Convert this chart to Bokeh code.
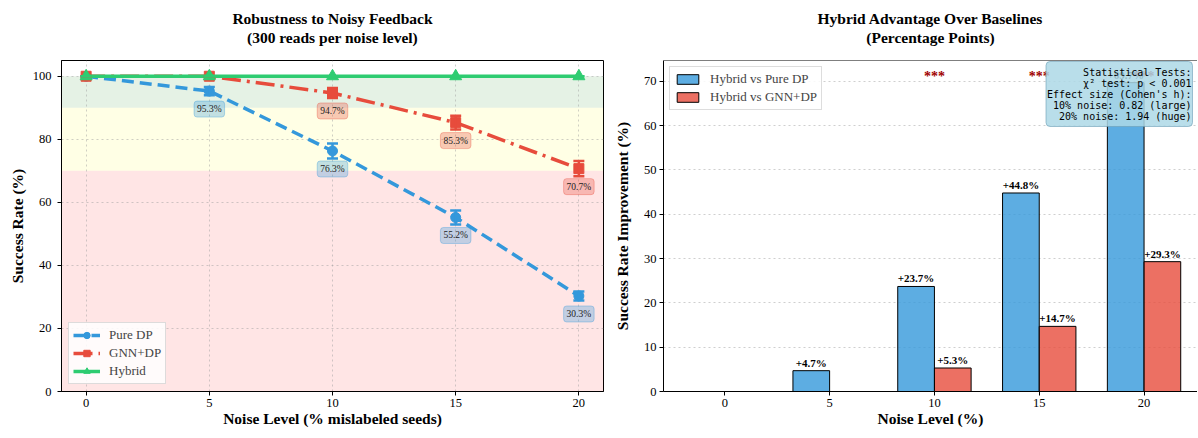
from bokeh.plotting import figure
from bokeh.layouts import row
from bokeh.models import (ColumnDataSource, Whisker, TeeHead, Label, BoxAnnotation, Span,
                          Legend, LegendItem, Title, FixedTicker, Range1d)
from bokeh.embed import file_html
from bokeh.resources import INLINE

# ---------------- data ----------------
noise_levels = [0, 5, 10, 15, 20]
pure_dp = [100.0, 95.3, 76.3, 55.2, 30.3]
gnn_dp = [100.0, 100.0, 94.7, 85.3, 70.7]
hybrid = [100.0, 100.0, 100.0, 100.0, 100.0]
pure_dp_err = [0.0, 1.3, 2.4, 2.2, 1.4]
gnn_dp_err = [0.0, 0.0, 1.6, 2.2, 2.4]
hybrid_err = [0.0, 0.0, 0.0, 0.0, 0.0]

noise_tick_labels = ["0", "5", "10", "15", "20"]
adv_vs_pure = [0.0, 4.7, 23.7, 44.8, 69.7]
adv_vs_gnn = [0.0, 0.0, 5.3, 14.7, 29.3]
significance = ["", "", "***", "***", "***"]

left_title = ["Robustness to Noisy Feedback", "(300 reads per noise level)"]
right_title = ["Hybrid Advantage Over Baselines", "(Percentage Points)"]
stats_lines = ["Statistical Tests:",
               "\u03c7\u00b2 test: p < 0.001",
               "Effect size (Cohen's h):",
               "10% noise: 0.82 (large)",
               "20% noise: 1.94 (huge)"]

# ---------------- style ----------------
SERIF = "Liberation Serif"
MONO = "DejaVu Sans Mono"
C_PURE = "#3498db"
C_GNN = "#e74c3c"
C_HYB = "#2ecc71"


def style_axes(p):
    for ax in (p.xaxis, p.yaxis):
        ax.axis_line_color = "black"
        ax.major_tick_line_color = "black"
        ax.major_tick_out = 4
        ax.major_tick_in = 0
        ax.minor_tick_line_color = None
        ax.major_label_text_font = SERIF
        ax.major_label_text_font_size = "12.5px"
        ax.major_label_text_color = "black"
        ax.axis_label_text_font = SERIF
        ax.axis_label_text_font_size = "15.5px"
        ax.axis_label_text_font_style = "bold"
        ax.axis_label_text_color = "black"


def add_title(p, lines):
    # panels added later sit further from the frame: spacer, line 2, line 1
    p.add_layout(Title(text=" ", text_font_size="1px", standoff=12), "above")
    p.add_layout(Title(text=lines[1], align="center", text_font=SERIF, text_font_size="15.5px",
                       text_font_style="bold", text_color="black", standoff=0), "above")
    p.add_layout(Title(text=lines[0], align="center", text_font=SERIF, text_font_size="15.5px",
                       text_font_style="bold", text_color="black", standoff=0), "above")


# ---------------- left: robustness ----------------
p1 = figure(frame_width=542, frame_height=331, x_range=Range1d(-1, 21), y_range=Range1d(0, 105),
            output_backend="svg", toolbar_location=None,
            min_border_left=61, min_border_right=3, min_border_top=60, min_border_bottom=44)
add_title(p1, left_title)
style_axes(p1)
p1.outline_line_color = "black"
p1.xaxis.ticker = FixedTicker(ticks=noise_levels)
p1.yaxis.ticker = FixedTicker(ticks=[0, 20, 40, 60, 80, 100])
p1.xaxis.axis_label = "Noise Level (% mislabeled seeds)"
p1.yaxis.axis_label = "Success Rate (%)"
p1.xaxis.major_label_standoff = 3
p1.xaxis.axis_label_standoff = 0
p1.yaxis.major_label_standoff = 6
p1.yaxis.axis_label_standoff = 4
for g in (p1.xgrid, p1.ygrid):
    g.grid_line_color = "#a0a0a0"
    g.grid_line_alpha = 0.5
    g.grid_line_dash = "2 3"

p1.add_layout(BoxAnnotation(bottom=90, top=100, fill_color="green", fill_alpha=0.1,
                            line_alpha=0, level="image"))
p1.add_layout(BoxAnnotation(bottom=70, top=90, fill_color="yellow", fill_alpha=0.1,
                            line_alpha=0, level="image"))
p1.add_layout(BoxAnnotation(bottom=0, top=70, fill_color="red", fill_alpha=0.1,
                            line_alpha=0, level="image"))

series = [
    ("Pure DP", pure_dp, pure_dp_err, C_PURE, "12 6", "circle", 10),
    ("GNN+DP", gnn_dp, gnn_dp_err, C_GNN, "19 6 3 6", "square", 10),
    ("Hybrid", hybrid, hybrid_err, C_HYB, "solid", "triangle", 12),
]
legend_items = []
for name, vals, errs, color, dash, marker, msize in series:
    src = ColumnDataSource(dict(x=noise_levels, y=vals,
                                upper=[v + e for v, e in zip(vals, errs)],
                                lower=[v - e for v, e in zip(vals, errs)]))
    ln = p1.line("x", "y", source=src, line_color=color, line_width=3.5, line_dash=dash)
    mk = p1.scatter("x", "y", source=src, marker=marker, size=msize, fill_color=color,
                    line_color=color)
    wh = Whisker(base="x", upper="upper", lower="lower", source=src, line_color=color,
                 line_width=2.5, level="glyph",
                 upper_head=TeeHead(size=11, line_color=color, line_width=2.5),
                 lower_head=TeeHead(size=11, line_color=color, line_width=2.5))
    p1.add_layout(wh)
    legend_items.append(LegendItem(label=name, renderers=[ln, mk]))
    if name != "Hybrid":
        for x, v in zip(noise_levels, vals):
            if v < 100:
                p1.add_layout(Label(x=x, y=v, y_offset=-18, text=f"{v:.1f}%",
                                    text_align="center", text_baseline="middle",
                                    text_font=SERIF, text_font_size="9.5px", text_color="#222222",
                                    background_fill_color=color, background_fill_alpha=0.3,
                                    border_line_color=color, border_line_alpha=0.35,
                                    padding=3, border_radius=3))

leg1 = Legend(items=legend_items, location="bottom_left", margin=7, padding=4,
              spacing=2, glyph_height=16, label_height=16, glyph_width=27, label_standoff=9,
              label_text_font=SERIF, label_text_font_size="13px",
              border_line_color="#bbbbbb", background_fill_alpha=0.85)
p1.add_layout(leg1)

# ---------------- right: advantage bars ----------------
idx = list(range(len(noise_levels)))
XEND = 4.51
YEND = 74.7
p2 = figure(frame_width=534, frame_height=331, x_range=Range1d(-0.585, XEND), y_range=Range1d(0, YEND),
            output_backend="svg", toolbar_location=None,
            min_border_left=57, min_border_right=0, min_border_top=60, min_border_bottom=44)
add_title(p2, right_title)
style_axes(p2)
p2.outline_line_color = None
p2.add_layout(Span(location=YEND, dimension="width", line_color="black", line_width=1))
p2.xaxis.ticker = FixedTicker(ticks=idx)
p2.xaxis.major_label_overrides = {i: t for i, t in zip(idx, noise_tick_labels)}
p2.yaxis.ticker = FixedTicker(ticks=[0, 10, 20, 30, 40, 50, 60, 70])
p2.xaxis.axis_label = "Noise Level (%)"
p2.yaxis.axis_label = "Success Rate Improvement (%)"
p2.xaxis.major_label_standoff = 3
p2.xaxis.axis_label_standoff = 0
p2.yaxis.major_label_standoff = 3
p2.yaxis.axis_label_standoff = 10
p2.xgrid.grid_line_color = None
p2.ygrid.grid_line_color = "#a0a0a0"
p2.ygrid.grid_line_alpha = 0.5
p2.ygrid.grid_line_dash = "2 3"

W = 0.35
bsrc = ColumnDataSource(dict(xp=[i - W / 2 for i in idx], xg=[i + W / 2 for i in idx],
                             pure=adv_vs_pure, gnn=adv_vs_gnn))
b1 = p2.vbar(x="xp", top="pure", width=W, source=bsrc, fill_color=C_PURE, fill_alpha=0.8,
             line_color="black", line_width=1)
b2 = p2.vbar(x="xg", top="gnn", width=W, source=bsrc, fill_color=C_GNN, fill_alpha=0.8,
             line_color="black", line_width=1)

for i, v in zip(idx, adv_vs_pure):
    if v > 0:
        p2.add_layout(Label(x=i - W / 2, y=v, y_offset=2, text=f"+{v:.1f}%", text_align="center",
                            text_baseline="bottom", text_font=SERIF, text_font_size="11px",
                            text_font_style="bold", text_color="black"))
for i, v in zip(idx, adv_vs_gnn):
    if v > 0:
        p2.add_layout(Label(x=i + W / 2, y=v, y_offset=2, text=f"+{v:.1f}%", text_align="center",
                            text_baseline="bottom", text_font=SERIF, text_font_size="11px",
                            text_font_style="bold", text_color="black"))
for i, s in zip(idx, significance):
    if s:
        p2.add_layout(Label(x=i, y=71.2, text=s, text_align="center", text_baseline="middle",
                            text_font=SERIF, text_font_size="14px", text_font_style="bold",
                            text_color="#a00000"))

leg2 = Legend(items=[LegendItem(label="Hybrid vs Pure DP", renderers=[b1]),
                     LegendItem(label="Hybrid vs GNN+DP", renderers=[b2])],
              location="top_left", margin=6, padding=4, spacing=2, glyph_height=12,
              label_height=15, glyph_width=27, label_standoff=9, label_text_font=SERIF,
              label_text_font_size="13px", border_line_color="#bbbbbb",
              background_fill_alpha=0.85)
p2.add_layout(leg2)

p2.add_layout(Label(x=XEND, y=YEND, x_offset=-5, y_offset=-1, text="\n".join(stats_lines),
                    text_align="right", text_baseline="top", text_font=MONO,
                    text_font_size="10px", text_line_height=1.0, text_color="black",
                    background_fill_color="lightblue", background_fill_alpha=0.85,
                    border_line_color="#6a9fb5", border_line_alpha=0.6,
                    padding=(1, 5), border_radius=4))

layout = row(p1, p2)
open("out.html", "w").write(file_html(layout, INLINE))
